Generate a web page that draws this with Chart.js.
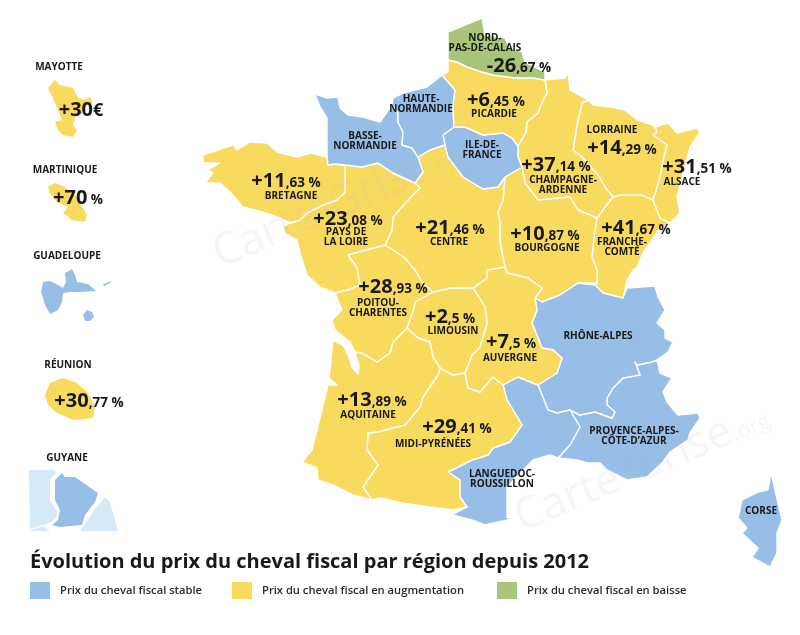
<!DOCTYPE html>
<html lang="fr">
<head>
<meta charset="utf-8">
<title>Prix du cheval fiscal</title>
<script src="https://cdn.jsdelivr.net/npm/chart.js@4"></script>
<style>
html,body{margin:0;padding:0;background:#fff}
canvas{display:block}
</style>
</head>
<body>
<canvas id="carte" width="800" height="635"></canvas>
<script>
// outlines, in map units (0-800, 0-635)
var nordPasDeCalais=[[448,32],[482,18],[485,35],[505,38],[509,47],[522,52],[525,62],[545,72],[545,80],[533,78],[515,78],[493,75],[482,72],[467,67],[457,62],[448,60]];
var picardie=[[442,75],[448,72],[448,60],[457,62],[467,67],[482,72],[493,75],[515,78],[533,78],[545,80],[547,93],[540,107],[538,113],[527,122],[526,132],[518,146],[512,138],[503,133],[483,135],[465,127],[454,127],[453,107],[455,90]];
var hauteNormandie=[[392,105],[393,98],[403,93],[427,87],[442,75],[455,90],[453,107],[454,127],[443,135],[445,145],[430,150],[418,157],[412,148],[402,145],[403,132],[398,122],[398,113]];
var basseNormandie=[[315,94],[327,98],[338,97],[340,108],[348,115],[363,117],[380,122],[392,105],[398,113],[398,122],[403,132],[402,145],[412,148],[418,157],[423,172],[415,183],[393,173],[378,163],[362,167],[345,165],[335,164],[328,165],[327,157],[327,118],[320,107]];
var ileDeFrance=[[443,135],[454,127],[465,127],[483,135],[503,133],[512,138],[518,146],[518,157],[522,167],[505,177],[498,187],[483,189],[463,177],[448,157],[445,145]];
var bretagne=[[203,155],[233,145],[237,150],[250,142],[267,143],[277,152],[297,157],[310,153],[327,157],[328,165],[335,164],[345,165],[345,192],[337,200],[323,205],[307,213],[300,220],[290,223],[280,218],[263,212],[243,207],[230,192],[220,183],[205,183],[213,173],[208,170],[220,163],[203,163]];
var paysDeLaLoire=[[345,165],[362,167],[378,163],[393,173],[415,183],[420,188],[410,198],[393,217],[392,230],[385,245],[373,248],[348,255],[357,268],[358,275],[360,285],[347,290],[335,293],[320,287],[307,275],[300,253],[297,240],[285,233],[283,227],[290,223],[300,220],[307,213],[323,205],[337,200],[345,192]];
var centre=[[418,157],[430,150],[445,145],[448,157],[463,177],[483,189],[498,187],[505,177],[503,200],[498,212],[500,222],[500,243],[505,267],[487,270],[487,278],[473,288],[450,288],[433,292],[423,283],[415,270],[405,258],[393,250],[385,245],[392,230],[393,217],[410,198],[420,188],[415,183],[423,172]];
var poitouCharentes=[[335,293],[347,290],[360,285],[358,275],[357,268],[348,255],[373,248],[385,245],[393,250],[405,258],[415,270],[423,283],[433,292],[415,302],[414,308],[407,328],[393,342],[390,353],[377,362],[362,353],[355,352],[350,342],[335,330],[332,320],[342,310]];
var aquitaine=[[333,340],[343,345],[349,357],[352,367],[358,374],[359,365],[355,352],[362,353],[377,362],[390,353],[393,342],[407,328],[418,338],[430,342],[433,357],[440,368],[438,375],[423,397],[420,407],[405,425],[392,428],[378,432],[368,433],[367,450],[378,465],[363,487],[372,500],[353,495],[333,485],[318,480],[317,468],[302,462],[312,450],[328,385],[337,385],[329,378]];
var limousin=[[433,292],[450,288],[473,288],[485,307],[487,323],[480,347],[472,355],[465,373],[453,375],[440,368],[433,357],[430,342],[418,338],[407,328],[414,308],[415,302]];
var auvergne=[[473,288],[487,278],[487,270],[505,267],[507,273],[528,278],[542,288],[535,298],[537,310],[532,323],[542,348],[553,350],[562,358],[557,373],[538,385],[518,377],[503,385],[493,377],[480,392],[468,388],[465,373],[472,355],[480,347],[487,323],[485,307]];
var midiPyrenees=[[440,368],[453,375],[465,373],[468,388],[480,392],[493,377],[503,385],[507,400],[518,418],[522,425],[510,442],[493,448],[488,455],[472,460],[448,472],[460,480],[460,497],[467,507],[453,510],[437,508],[402,503],[380,498],[372,500],[363,487],[378,465],[367,450],[368,433],[378,432],[392,428],[405,425],[420,407],[423,397],[438,375]];
var languedoc=[[503,385],[518,377],[538,385],[548,410],[557,413],[570,410],[580,427],[570,445],[558,458],[550,455],[533,460],[507,487],[507,517],[512,519],[485,525],[472,520],[452,515],[467,507],[460,497],[460,480],[448,472],[472,460],[488,455],[493,448],[510,442],[522,425],[518,418],[507,400]];
var rhoneAlpes=[[535,298],[542,302],[560,295],[578,283],[595,285],[603,293],[623,298],[627,288],[655,286],[658,297],[665,310],[657,323],[665,330],[665,338],[673,342],[668,352],[657,360],[652,362],[637,365],[635,362],[640,375],[623,378],[613,388],[607,398],[607,405],[615,412],[612,418],[595,412],[580,415],[570,410],[557,413],[548,410],[538,385],[557,373],[562,358],[553,350],[542,348],[532,323],[537,310]];
var paca=[[637,365],[652,362],[657,360],[660,373],[672,378],[663,392],[667,402],[678,415],[698,413],[700,418],[690,433],[688,440],[670,452],[663,462],[647,477],[627,480],[607,470],[600,463],[587,463],[577,460],[558,458],[570,445],[580,427],[570,410],[580,415],[595,412],[612,418],[615,412],[607,405],[607,398],[613,388],[623,378],[640,375],[635,362]];
var bourgogne=[[505,177],[522,167],[525,183],[538,200],[570,197],[578,210],[597,218],[594,237],[592,257],[597,270],[597,283],[578,283],[560,295],[542,302],[535,298],[542,288],[528,278],[507,273],[505,267],[500,243],[500,222],[498,212],[503,200]];
var champagne=[[545,80],[565,78],[568,72],[570,90],[588,100],[582,103],[577,125],[573,150],[582,157],[598,175],[605,187],[613,197],[605,207],[597,218],[578,210],[570,197],[538,200],[525,183],[522,167],[518,157],[518,146],[526,132],[527,122],[538,113],[540,107],[547,93]];
var lorraine=[[588,100],[593,105],[610,107],[625,110],[637,120],[653,125],[657,132],[653,135],[667,145],[663,160],[660,177],[653,200],[642,195],[620,195],[613,197],[605,187],[598,175],[582,157],[573,150],[577,125],[582,103]];
var alsace=[[655,127],[668,123],[677,133],[697,128],[700,132],[690,147],[682,177],[677,197],[680,213],[670,223],[660,218],[653,200],[660,177],[663,160],[667,145],[653,135],[657,132]];
var francheComte=[[613,197],[620,195],[642,195],[653,200],[660,218],[670,223],[658,230],[650,243],[643,253],[637,267],[633,270],[627,280],[623,298],[603,293],[595,285],[597,283],[597,270],[592,257],[594,237],[597,218],[605,207]];
var corse=[[771,472],[775,490],[782,520],[777,533],[777,553],[770,567],[752,557],[758,548],[742,533],[747,528],[738,518],[742,500],[758,492],[768,490]];
var mayotte=[[48,88],[55,80],[60,85],[73,88],[78,98],[84,100],[90,97],[93,103],[87,105],[82,113],[75,118],[73,125],[77,130],[73,137],[63,135],[58,130],[55,122],[62,120],[58,110],[53,98]];
var martinique=[[48,187],[55,183],[65,187],[75,195],[80,203],[87,215],[85,222],[72,220],[63,213],[68,207],[57,202],[50,193]];
var guadeloupe1=[[43,282],[50,281],[58,285],[63,288],[66,282],[65,273],[72,269],[75,275],[77,282],[88,284],[96,291],[80,292],[70,292],[63,293],[62,302],[58,310],[50,314],[45,305],[41,292]];
var guadeloupe2=[[103,284],[112,281],[110,283],[104,286]];
var guadeloupe3=[[83,315],[87,310],[92,312],[94,317],[90,321],[85,321]];
var reunion=[[45,395],[50,383],[63,378],[77,383],[88,393],[95,407],[93,418],[73,420],[57,413],[48,405]];
var guyane=[[55,480],[62,473],[65,477],[75,477],[98,493],[95,502],[85,515],[82,525],[60,527],[52,525],[58,520],[60,510],[55,500]];
var voisinOuest=[[29,470],[55,470],[56,473],[50,480],[50,500],[57,512],[56,518],[50,523],[43,525],[30,529]];
var voisinEst=[[105,497],[110,502],[118,531],[80,531],[88,520],[92,513],[98,505]];
var voisinSud=[[29,531],[43,526],[50,531]];

var stable="stable";
var hausse="hausse";
var baisse="baisse";
var voisin="voisin";

var regionOutlines=[nordPasDeCalais,picardie,hauteNormandie,basseNormandie,ileDeFrance,bretagne,paysDeLaLoire,centre,poitouCharentes,aquitaine,limousin,auvergne,midiPyrenees,languedoc,rhoneAlpes,paca,bourgogne,champagne,lorraine,alsace,francheComte,corse,mayotte,martinique,guadeloupe1,guadeloupe2,guadeloupe3,reunion,voisinOuest,voisinEst,voisinSud,guyane];
var regionStatus=[baisse,hausse,stable,stable,stable,hausse,hausse,hausse,hausse,hausse,hausse,hausse,hausse,stable,stable,stable,hausse,hausse,hausse,hausse,hausse,stable,hausse,hausse,stable,stable,stable,hausse,voisin,voisin,voisin,stable];

var regionNames=["NORD-\nPAS-DE-CALAIS","PICARDIE","HAUTE-\nNORMANDIE","BASSE-\nNORMANDIE","ILE-DE-\nFRANCE","BRETAGNE","PAYS DE\nLA LOIRE","CENTRE","POITOU-\nCHARENTES","AQUITAINE","LIMOUSIN","AUVERGNE","MIDI-PYRÉNÉES","LANGUEDOC-\nROUSSILLON","RHÔNE-ALPES","PROVENCE-ALPES-\nCÔTE-D’AZUR","BOURGOGNE","CHAMPAGNE-\nARDENNE","LORRAINE","ALSACE","FRANCHE-\nCOMTÉ","CORSE","MAYOTTE","MARTINIQUE","GUADELOUPE","RÉUNION","GUYANE"];
var regionValues=["-26,67 %","+6,45 %","","","","+11,63 %","+23,08 %","+21,46 %","+28,93 %","+13,89 %","+2,5 %","+7,5 %","+29,41 %","","","","+10,87 %","+37,14 %","+14,29 %","+31,51 %","+41,67 %","","+30€","+70 %","","+30,77 %",""];

var legendLabels=["Prix du cheval fiscal stable","Prix du cheval fiscal en augmentation","Prix du cheval fiscal en baisse"];
var titre="Évolution du prix du cheval fiscal par région depuis 2012";

// where the texts sit, same order as regionNames
var namePlaces=[[485,43],[494,114],[421,104],[365,141],[482,150],[291,196],[346,237],[449,242],[378,308],[368,415],[453,331],[510,358],[433,444],[502,479],[598,336],[634,436],[547,248],[563,185],[612,130],[682,182],[622,247],[761,511],[59,67],[65,170],[67,256],[68,365],[67,458]];
var valuePlaces=[[519,65],[496,99],null,null,null,[286,180],[348,218],[450,227],[393,286],[372,399],[450,316],[511,341],[457,426],null,null,null,[545,233],[556,164],[622,147],[697,166],[636,227],null,[81,109],[78,197],null,[89,400],null];

var couleurs={stable:"#97bee6",hausse:"#f8da5e",baisse:"#a9c579",voisin:"#d5e9f8"};
var police='"Open Sans"';
var encre="#191919";

var datasets=[];
for (var i=0;i<regionOutlines.length;i++){
    var pts=regionOutlines[i].map(function(p){return {x:p[0],y:p[1]};});
    pts.push(pts[0]);
    datasets.push({
        data:pts,
        showLine:true,
        fill:"shape",
        backgroundColor:couleurs[regionStatus[i]],
        borderColor:"#ffffff",
        borderWidth:i<22?1.4:0,   // the overseas shapes have no outline
        borderJoinStyle:"round",
        pointRadius:0,
        tension:0,
        clip:false
    });
}

function drawValue(c,txt,x,y){
    var m=txt.match(/^([+-]?\d+)(.*)$/);
    var grand='700 20px '+police;
    var petit=(m[2]=="€"?'700 18px ':'700 13.5px ')+police;
    c.textAlign="left";
    c.textBaseline="alphabetic";
    c.font=grand;
    var w1=c.measureText(m[1]).width;
    c.font=petit;
    var w2=c.measureText(m[2]).width;
    var x0=x-(w1+w2)/2;
    c.font=grand;
    c.fillText(m[1],x0,y+7);
    c.font=petit;
    c.fillText(m[2],x0+w1,y+7);
}

var textes={
    id:"textes",
    afterDatasetsDraw:function(chart){
        var c=chart.ctx;
        var sx=chart.scales.x;
        var sy=chart.scales.y;
        c.save();

        // filigrane
        c.fillStyle="rgba(190,190,190,0.14)";
        [[220,268],[522,532]].forEach(function(p){
            c.save();
            c.translate(sx.getPixelForValue(p[0]),sy.getPixelForValue(p[1]));
            c.rotate(-0.4);
            c.textAlign="left";
            c.font='400 44px '+police;
            c.fillText("Carte-Grise",0,0);
            var w=c.measureText("Carte-Grise").width;
            c.font='400 22px '+police;
            c.fillText(".org",w,0);
            c.restore();
        });

        c.fillStyle=encre;
        for (var i=0;i<regionNames.length;i++){
            var lignes=regionNames[i].split("\n");
            var nx=sx.getPixelForValue(namePlaces[i][0]);
            var ny=sy.getPixelForValue(namePlaces[i][1]);
            c.font='700 10px '+police;
            c.textAlign="center";
            c.textBaseline="middle";
            for (var k=0;k<lignes.length;k++){
                c.fillText(lignes[k],nx,ny+(k-(lignes.length-1)/2)*10);
            }
            if (regionValues[i]){
                drawValue(c,regionValues[i],sx.getPixelForValue(valuePlaces[i][0]),sy.getPixelForValue(valuePlaces[i][1]));
            }
        }

        // titre et legende
        c.textAlign="left";
        c.textBaseline="alphabetic";
        c.font='700 20px '+police;
        c.fillText(titre,30,568);
        var swatchX=[30,232,497];
        var cles=[stable,hausse,baisse];
        for (var j=0;j<legendLabels.length;j++){
            c.fillStyle=couleurs[cles[j]];
            c.fillRect(swatchX[j],582,20,17);
            c.fillStyle="#2a2a2a";
            c.font='600 11.2px '+police;
            c.fillText(legendLabels[j],swatchX[j]+30,594);
        }
        c.restore();
    }
};

var carte=new Chart(document.getElementById("carte"),{
    type:"scatter",
    data:{datasets:datasets},
    options:{
        responsive:false,
        animation:false,
        devicePixelRatio:1,
        layout:{padding:0},
        plugins:{legend:{display:false},tooltip:{enabled:false},title:{display:false}},
        scales:{
            x:{type:"linear",display:false,min:0,max:800},
            y:{type:"linear",display:false,min:0,max:635,reverse:true}
        }
    },
    plugins:[textes]
});
</script>
</body>
</html>
